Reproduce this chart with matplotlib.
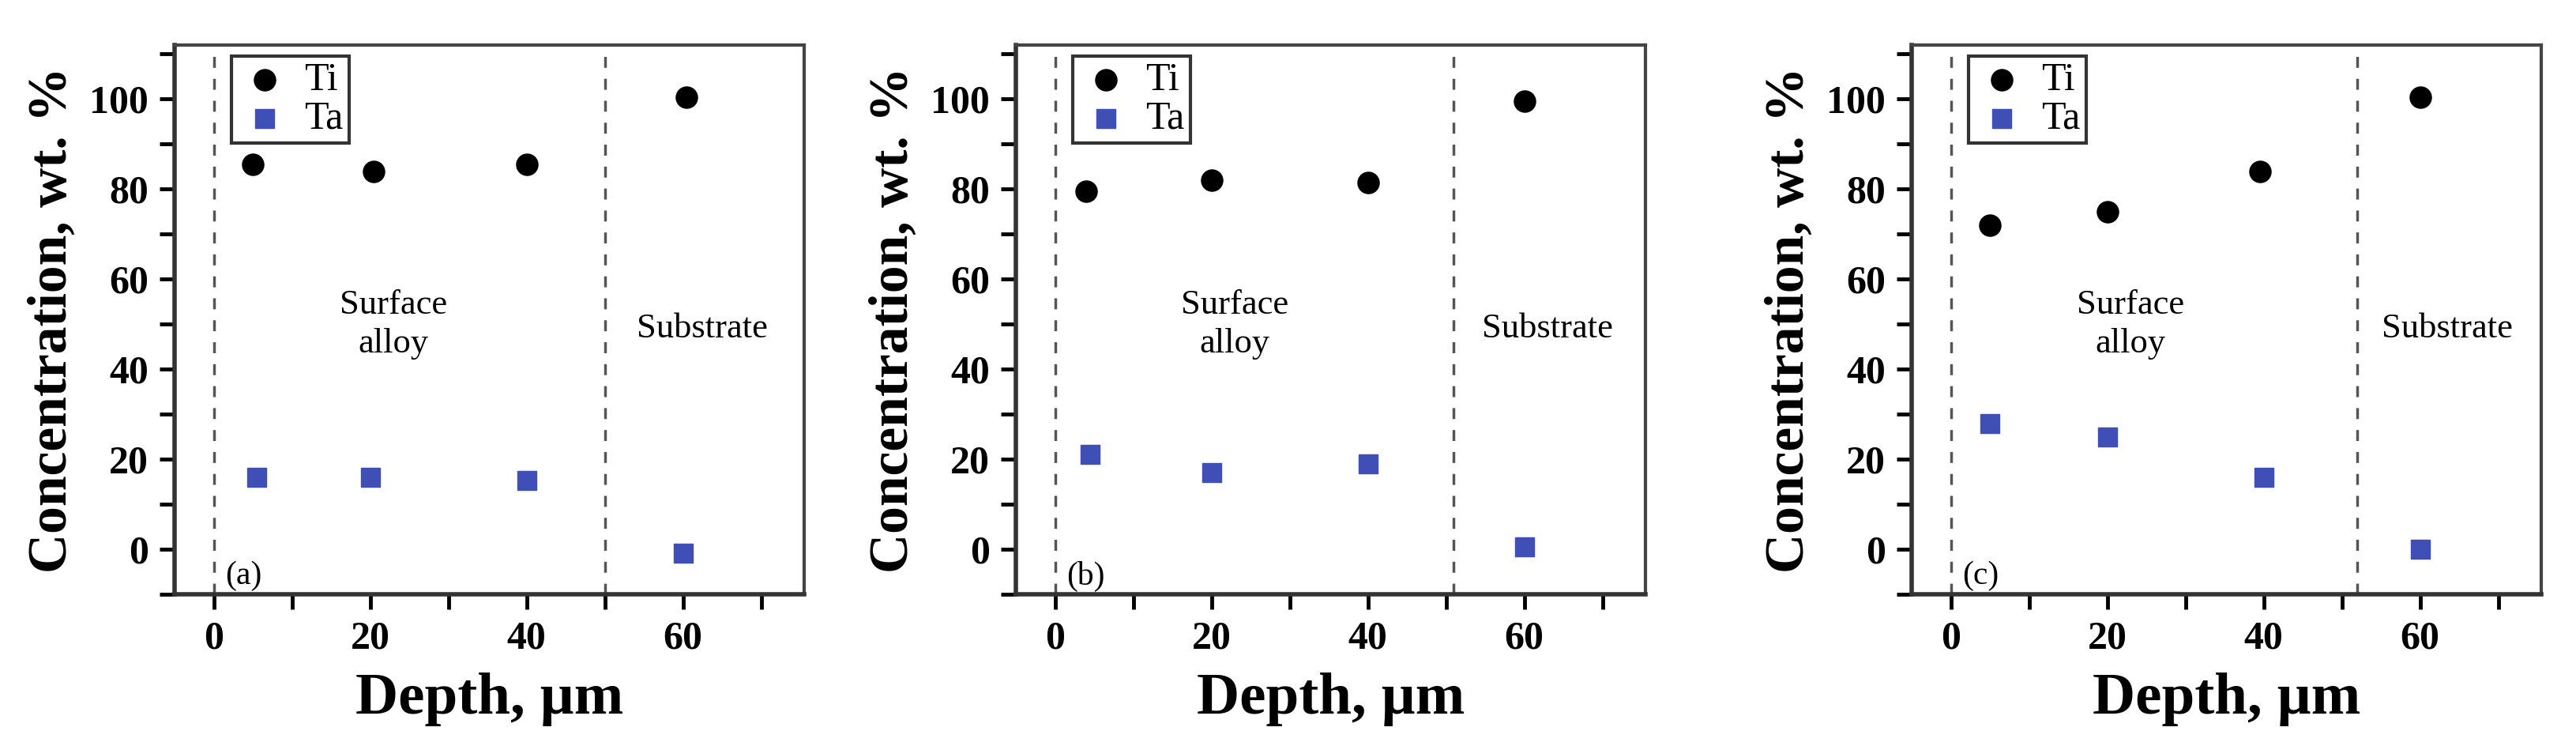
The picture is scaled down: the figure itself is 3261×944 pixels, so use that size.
import matplotlib.pyplot as plt
from matplotlib.ticker import MultipleLocator

plt.rcParams["font.family"] = ["Liberation Serif", "DejaVu Serif"]

panels = ["(a)", "(b)", "(c)"]
ti_x = [[5, 20.5, 40, 60.5], [4, 20, 40, 60], [5, 20, 39.5, 60]]
ti_y = [[85.5, 84, 85.5, 100.5], [79.5, 82, 81.5, 99.5], [72, 75, 84, 100.5]]
ta_x = [[5.5, 20, 40, 60], [4.5, 20, 40, 60], [5, 20, 40, 60]]
ta_y = [[16, 16, 15.3, -0.8], [21, 17, 19, 0.5], [28, 25, 16, 0]]
boundary = [50, 51, 52]

fig = plt.figure(figsize=(32.61, 9.44), dpi=100)
lefts = [221, 1286, 2420]
width = 797
top, bottom = 57, 752
for i, label in enumerate(panels):
    ax = fig.add_axes([lefts[i] / 3261, 1 - bottom / 944, width / 3261, (bottom - top) / 944])
    ax.axvline(0, color="#555555", ls=(0, (4, 4)), lw=2.5)
    ax.axvline(boundary[i], color="#555555", ls=(0, (4, 4)), lw=2.5)
    ax.scatter(ti_x[i], ti_y[i], s=380, color="black", marker="o", label="Ti", zorder=3)
    ax.scatter(ta_x[i], ta_y[i], s=320, color="#3f4fb5", marker="s", label="Ta", zorder=3)
    ax.set_xlim(-5, 75.5)
    ax.set_ylim(-10, 112)
    ax.xaxis.set_major_locator(MultipleLocator(20))
    ax.xaxis.set_minor_locator(MultipleLocator(10))
    ax.yaxis.set_major_locator(MultipleLocator(20))
    ax.yaxis.set_minor_locator(MultipleLocator(10))
    ax.set_xticks([0, 20, 40, 60])
    ax.tick_params(which="both", direction="out", width=3.5, labelsize=36, pad=10)
    ax.tick_params(which="major", length=14)
    ax.tick_params(which="minor", length=14)
    for lab in ax.get_xticklabels() + ax.get_yticklabels():
        lab.set_fontweight("bold")
    for side in ["left", "bottom"]:
        ax.spines[side].set_linewidth(4)
        ax.spines[side].set_color("#333333")
    for side in ["top", "right"]:
        ax.spines[side].set_linewidth(3)
        ax.spines[side].set_color("#444444")
    ax.set_xlabel("Depth, µm", fontsize=54, fontweight="bold", labelpad=14)
    ax.set_ylabel("Concentration, wt. %", fontsize=50, fontweight="bold", labelpad=10)
    ax.text(23, 50, "Surface\nalloy", fontsize=32, ha="center", va="center", linespacing=1.3)
    ax.text((boundary[i] + 75) / 2, 49, "Substrate", fontsize=32, ha="center", va="center")
    ax.text(1.5, -6, label, fontsize=30, ha="left", va="center")
    leg = ax.legend(loc="upper left", bbox_to_anchor=(0.09, 0.98), fontsize=36,
                    frameon=True, fancybox=False, edgecolor="black",
                    handletextpad=0.3, borderpad=0.15, labelspacing=0.05,
                    handlelength=1.4, borderaxespad=0)
    leg.get_frame().set_linewidth(3)

fig.savefig("out.png", dpi=100)
